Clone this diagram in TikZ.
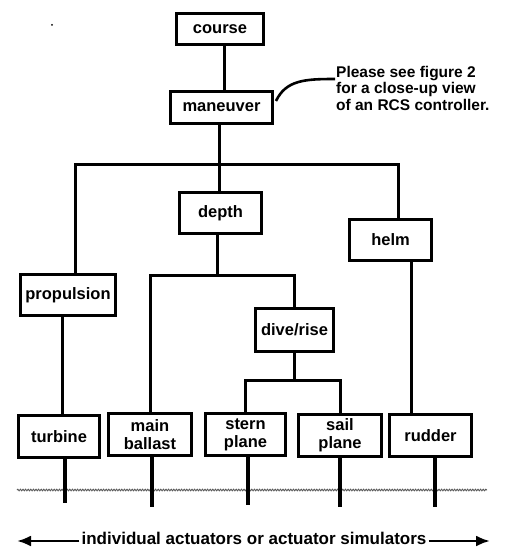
\documentclass[tikz,border=0pt]{standalone}
\usepackage{fontspec}
\setmainfont{Liberation Sans}
\usetikzlibrary{arrows.meta,decorations.pathmorphing}
\begin{document}
\begin{tikzpicture}[x=1pt,y=-1pt,
  ctrl/.style={draw,line width=3.1pt,rectangle,inner sep=0pt,
    font=\bfseries\fontsize{16.5}{18}\selectfont,align=center,
    minimum height=42pt},
  link/.style={line width=3pt},
  stub/.style={line width=3.2pt}]
\useasboundingbox (0,0) rectangle (521,548);

% controller hierarchy
\node[ctrl,minimum width=87pt,minimum height=31pt] (course) at (220,29) {course};
\node[ctrl,minimum width=102pt,minimum height=32pt] (maneuver) at (221.5,107.5) {maneuver};
\node[ctrl,minimum width=82pt,minimum height=41pt] (depth) at (220.5,213) {depth};
\node[ctrl,minimum width=95pt,minimum height=41pt] (propulsion) at (68,295) {propulsion};
\node[ctrl,minimum width=82pt,minimum height=41pt] (helm) at (390.5,240) {helm};
\node[ctrl,minimum width=78pt,minimum height=43pt] (diverise) at (294.5,330) {dive/rise};
\node[ctrl,minimum width=81pt,minimum height=42pt] (turbine) at (59,436.5) {turbine};
\node[ctrl,minimum width=83pt,minimum height=42pt] (ballast) at (150,434.5) {main\\ballast};
\node[ctrl,minimum width=80pt,minimum height=42pt] (stern) at (245.5,434.5) {stern\\plane};
\node[ctrl,minimum width=83pt,minimum height=42pt] (sail) at (340,435.5) {sail\\plane};
\node[ctrl,minimum width=82pt,minimum height=42pt] (rudder) at (430.5,435.5) {rudder};

% junction points of the tree
\coordinate (cx) at (224,0);
\coordinate (mj) at (219,165);
\coordinate (pl) at (75,165);
\coordinate (hl) at (398,165);
\coordinate (dj) at (217,275);
\coordinate (sj) at (295,380);
\coordinate (tx) at (62,0);
\coordinate (rx) at (411,0);

\draw[link] (course.south -| cx) -- (maneuver.north -| cx);
\draw[link] (maneuver.south -| mj) -- (depth.north -| mj);
\draw[link] (propulsion.north -| pl) |- (hl) -- (helm.north -| hl);
\draw[link] (depth.south -| dj) -- (dj);
\draw[link] (ballast.north) |- (diverise.north |- dj) -- (diverise.north);
\draw[link] (diverise.south) -- (diverise.south |- sj);
\draw[link] (stern.north) |- (sail.north |- sj) -- (sail.north);
\draw[link] (propulsion.south -| tx) -- (turbine.north -| tx);
\draw[link] (helm.south -| rx) -- (rudder.north -| rx);

% boundary to the actuators
\coordinate (bl) at (17,490);
\coordinate (br) at (487,490);
\draw[black!65,line width=0.9pt,decorate,
  decoration={snake,amplitude=0.8pt,segment length=2.6pt}] (bl) -- (br);

% actuator outputs
\coordinate (tend) at (65,503);
\coordinate (bend) at (152,507);
\coordinate (send) at (248,505);
\coordinate (pend) at (340,507);
\coordinate (rend) at (435,507);
\draw[stub] (turbine.south -| tend) -- (tend);
\draw[stub] (ballast.south -| bend) -- (bend);
\draw[stub] (stern.south -| send) -- (send);
\draw[stub] (sail.south -| pend) -- (pend);
\draw[stub] (rudder.south -| rend) -- (rend);

% note about the maneuver controller
\node[anchor=north west,align=left,inner sep=0pt,
  font=\bfseries\fontsize{15.5}{16.5}\selectfont] (note) at (336,66)
  {Please see figure 2\\for a close-up view\\of an RCS controller.};
\draw[line width=2.6pt] (276,101) .. controls (286,80) and (305,79) .. (335,79);

% actuator caption
\node[inner sep=0pt,font=\bfseries\fontsize{17}{18}\selectfont] (caption) at (254,538.5)
  {individual actuators or actuator simulators};
\coordinate (al) at (17,541);
\coordinate (ar) at (490,541);
\draw[line width=2.6pt,-{Latex[length=14pt,width=11pt]}] ([xshift=-2pt]caption.west |- al) -- (al);
\draw[line width=2.6pt,-{Latex[length=14pt,width=11pt]}] ([xshift=2pt]caption.east |- ar) -- (ar);

% speck
\fill (52,25) circle (1pt);
\end{tikzpicture}
\end{document}
